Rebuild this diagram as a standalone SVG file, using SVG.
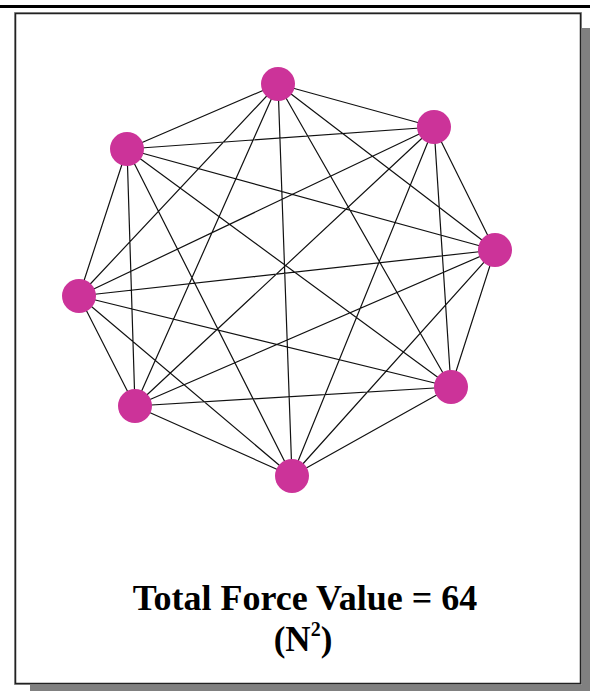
<svg xmlns="http://www.w3.org/2000/svg" width="590" height="691" viewBox="0 0 590 691">
<style>
.edge{stroke:#111;stroke-width:1.2;fill:none}
.node{fill:#CC3399}
.t{font-family:"Liberation Serif","Times New Roman",serif;font-weight:bold;fill:#000;text-anchor:middle}
</style>
<rect x="0" y="0" width="590" height="691" fill="#ffffff"/>
<rect x="0" y="5" width="590" height="3" fill="#000"/>
<rect x="30" y="28" width="560" height="663" fill="#808080"/>
<rect x="14.5" y="12.5" width="567" height="672" fill="#fff" stroke="#999" stroke-width="1"/>
<rect x="15.5" y="13.5" width="565" height="670" fill="none" stroke="#222" stroke-width="1.5"/>
<g id="connectors">
<path class="edge" d="M278,84L434,127M278,84L495,250M278,84L451,387M278,84L292,476M278,84L135,406M278,84L79,296M278,84L127,149
M434,127L495,250M434,127L451,387M434,127L292,476M434,127L135,406M434,127L79,296M434,127L127,149
M495,250L451,387M495,250L292,476M495,250L135,406M495,250L79,296M495,250L127,149
M451,387L292,476M451,387L135,406M451,387L79,296M451,387L127,149
M292,476L135,406M292,476L79,296M292,476L127,149
M135,406L79,296M135,406L127,149
M79,296L127,149"/>
</g>
<g id="n1"><circle class="node" cx="278" cy="84" r="17"/></g>
<g id="n2"><circle class="node" cx="434" cy="127" r="17"/></g>
<g id="n3"><circle class="node" cx="495" cy="250" r="17"/></g>
<g id="n4"><circle class="node" cx="451" cy="387" r="17"/></g>
<g id="n5"><circle class="node" cx="292" cy="476" r="17"/></g>
<g id="n6"><circle class="node" cx="135" cy="406" r="17"/></g>
<g id="n7"><circle class="node" cx="79" cy="296" r="17"/></g>
<g id="n8"><circle class="node" cx="127" cy="149" r="17"/></g>
<g id="label">
<text class="t" x="305" y="610" font-size="36">Total Force Value = 64</text>
<text class="t" x="303" y="651" font-size="35">(N<tspan font-size="20" dy="-15">2</tspan><tspan dy="15">)</tspan></text>
</g>
</svg>
